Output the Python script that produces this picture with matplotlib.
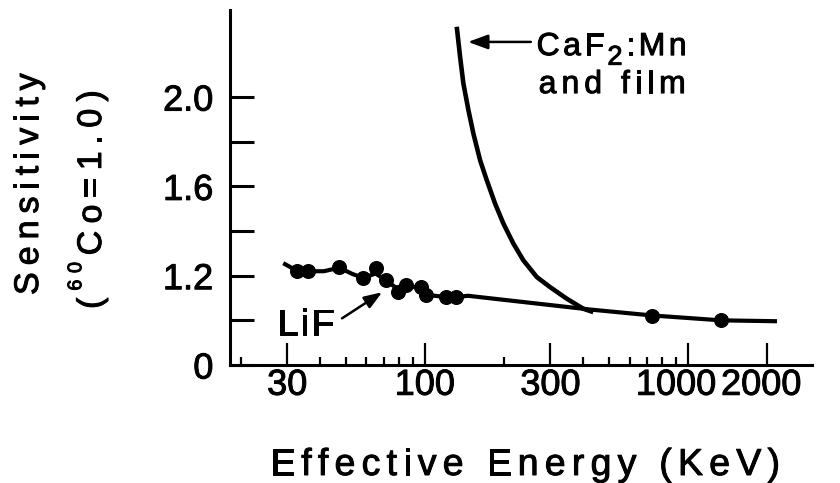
import matplotlib
matplotlib.use("Agg")
import matplotlib.pyplot as plt
import matplotlib.patheffects as pe
from matplotlib.transforms import ScaledTranslation
from matplotlib.font_manager import findfont, FontProperties
from matplotlib.ft2font import FT2Font

FAMILY = "Liberation Sans"
plt.rcParams["font.family"] = [FAMILY, "DejaVu Sans"]
INK = [pe.withStroke(linewidth=0.7, foreground="black")]

# LiF dosimeter: measured sensitivities
lif_energy = [32.7, 36.1, 47.4, 58.5, 65.0, 71.0, 79.0, 84.6, 96.6, 101.0, 120.0, 131.0, 729.0, 1337.0]
lif_sens = [1.22, 1.22, 1.238, 1.188, 1.233, 1.179, 1.126, 1.157, 1.148, 1.112, 1.103, 1.103, 1.02, 1.0]

# LiF response curve
lif_curve_energy = [29.0, 32.7, 36.1, 41.4, 47.4, 53.0, 58.5, 65.0, 71.0, 79.0, 84.6, 90.0,
                    96.6, 101.0, 109.0, 120.0, 131.0, 146.0, 420.0, 729.0, 1337.0, 2180.0]
lif_curve_sens = [1.256, 1.222, 1.22, 1.22, 1.236, 1.208, 1.19, 1.21, 1.18, 1.14, 1.155, 1.15,
                  1.145, 1.12, 1.11, 1.105, 1.104, 1.11, 1.049, 1.022, 1.0, 0.996]

# CaF2:Mn and film response curve
caf2_energy = [132.3, 136.2, 140.2, 146.5, 153.0, 162.3, 172.0, 185.0, 198.9, 217.1,
               236.9, 266.5, 299.2, 346.3, 400.3, 436.9]
caf2_sens = [2.315, 2.181, 2.061, 1.942, 1.837, 1.717, 1.628, 1.523, 1.434, 1.344,
             1.269, 1.194, 1.149, 1.097, 1.052, 1.037]

x_major = [30, 100, 300, 1000, 2000]
x_major_labels = ["30", "100", "300", "1000", "2000"]
x_minor = [20, 40, 50, 60, 70, 80, 90, 200, 400, 500, 600, 700, 800, 900]
y_ticks = [0.8, 1.0, 1.2, 1.4, 1.6, 1.8, 2.0]
y_tick_labels = ["0", "", "1.2", "", "1.6", "", "2.0"]

W, H, DPI = 840, 483, 100
fig = plt.figure(figsize=(W / DPI, H / DPI), dpi=DPI)
ax = fig.add_axes([230 / W, (H - 365) / H, (812 - 230) / W, (365 - 10) / H])

ax.plot(lif_curve_energy, lif_curve_sens, color="black", lw=3.0, solid_capstyle="butt", zorder=2)
ax.plot(caf2_energy, caf2_sens, color="black", lw=3.3, solid_capstyle="butt", zorder=2)
ax.plot(lif_energy, lif_sens, "o", color="black", ms=9.8, zorder=3)

ax.set_xscale("log")
ax.set_xlim(18.2, 2960)
ax.set_ylim(0.8, 2.39)

ax.set_xticks(x_major)
ax.set_xticklabels(x_major_labels)
ax.set_xticks(x_minor, minor=True)
ax.set_xticklabels([], minor=True)
ax.set_yticks(y_ticks)
ax.set_yticklabels(y_tick_labels)

for side in ("top", "right"):
    ax.spines[side].set_visible(False)
for side in ("left", "bottom"):
    ax.spines[side].set_linewidth(2.2)

ax.tick_params(axis="x", which="major", direction="in", length=15.8, width=1.6,
               labelsize=26, pad=2)
ax.tick_params(axis="x", which="minor", direction="in", length=5.8, width=1.6)
ax.tick_params(axis="y", which="major", direction="in", length=17.3, width=2.2,
               labelsize=26, pad=12)

for lab in ax.get_xticklabels() + ax.get_yticklabels():
    lab.set_path_effects(INK)
# the two crowded labels at the right end sit slightly left of their ticks
xlabels = ax.get_xticklabels()
for lab, dx in ((xlabels[-2], -12), (xlabels[-1], -6)):
    lab.set_transform(lab.get_transform() + ScaledTranslation(dx / DPI, 0, fig.dpi_scale_trans))

# letter-spaced text drawn glyph by glyph
_font = FT2Font(findfont(FontProperties(family=FAMILY)), hinting_factor=1)


def glyph_advance(ch, size):
    _font.set_size(size, 72)
    return _font.load_char(ord(ch)).linearHoriAdvance / 65536.0


def spaced_text(x0, y0, runs, size, length, rotation=0):
    """x0, y0: anchor in pixels (origin top-left); runs: (text, scale, rise)."""
    px = DPI / 72.0
    items = []
    total = 0.0
    for text, scale, rise in runs:
        for ch in text:
            a = glyph_advance(ch, size * scale) * px
            items.append((ch, scale, rise, a))
            total += a
    track = (length - total) / (len(items) - 1) if len(items) > 1 else 0.0
    yb = H - y0
    pos = 0.0
    for ch, scale, rise, a in items:
        if ch != " ":
            r = rise * size * px
            if rotation == 0:
                x, y = x0 + pos, yb + r
            else:
                x, y = x0 - r, yb + pos
            fig.text(x / W, y / H, ch, fontsize=size * scale, rotation=rotation,
                     rotation_mode="anchor", ha="left", va="baseline", family=FAMILY,
                     path_effects=INK)
        pos += a + track


def data_px(x, y):
    px, py = ax.transData.transform((x, y))
    return px, H - py


# axis titles
spaced_text(270, 475, [("Effective Energy (KeV)", 1.0, 0.0)], 27, 510)
spaced_text(38, 295, [("Sensitivity", 1.0, 0.0)], 24.5, 222, rotation=90)
spaced_text(101, 309, [("(", 1.0, 0.0), ("60", 0.58, 0.58), ("Co=1.0)", 1.0, 0.0)],
            24.5, 219, rotation=90)

# curve labels
lx, ly = data_px(27.5, 0.933)
spaced_text(lx, ly, [("LiF", 1.0, 0.0)], 27, 57)
cx, cy = data_px(266, 2.188)
spaced_text(cx, cy, [("CaF", 1.0, 0.0), ("2", 0.85, -0.3), (":Mn", 1.0, 0.0)], 23, 150)
fx, fy = data_px(271, 2.018)
spaced_text(fx, fy, [("and film", 1.0, 0.0)], 23, 147)

ax.annotate("", xy=(146, 2.247), xytext=(253, 2.247),
            arrowprops=dict(arrowstyle="-|>,head_length=0.6,head_width=0.22",
                            mutation_scale=20, lw=1.8, color="black",
                            shrinkA=0, shrinkB=0))
ax.annotate("", xy=(68.9, 1.126), xytext=(48.5, 1.009),
            arrowprops=dict(arrowstyle="-|>,head_length=0.6,head_width=0.22",
                            mutation_scale=18, lw=1.8, color="black",
                            shrinkA=0, shrinkB=0))

fig.savefig("out.png", dpi=DPI, facecolor="white")
